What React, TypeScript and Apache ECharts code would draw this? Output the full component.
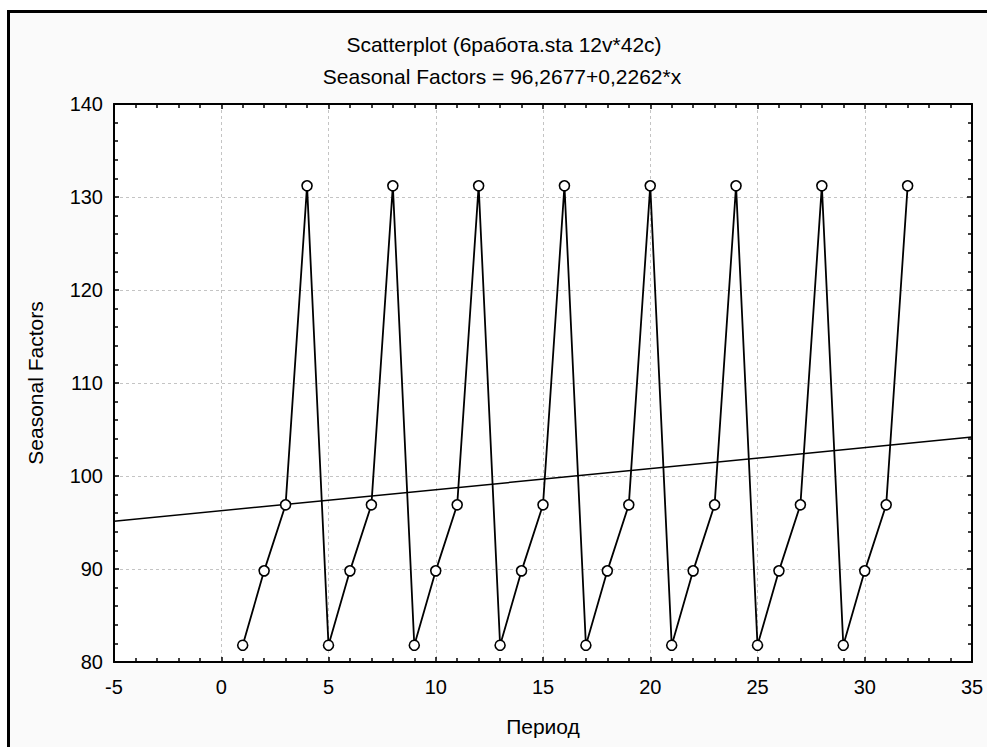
import React, { useEffect, useRef } from "react";
import * as echarts from "echarts";

const periods: number[] = Array.from({ length: 32 }, (_, i) => i + 1);
const seasonalFactors: number[] = [
  81.8, 89.8, 96.9, 131.2,
  81.8, 89.8, 96.9, 131.2,
  81.8, 89.8, 96.9, 131.2,
  81.8, 89.8, 96.9, 131.2,
  81.8, 89.8, 96.9, 131.2,
  81.8, 89.8, 96.9, 131.2,
  81.8, 89.8, 96.9, 131.2,
  81.8, 89.8, 96.9, 131.2,
];
const intercept = 96.2677;
const slope = 0.2262;
const xRange: number[] = [-5, 35];
const yRange: number[] = [80, 140];
const titleLine1 = "Scatterplot (6работа.sta 12v*42c)";
const titleLine2 = "Seasonal Factors = 96,2677+0,2262*x";
const xName = "Период";
const yName = "Seasonal Factors";

export default function App() {
  const ref = useRef<HTMLDivElement>(null);
  useEffect(() => {
    if (!ref.current) return;
    const chart = echarts.init(ref.current, null, { renderer: "svg" });
    const font = "Liberation Sans, Arial, sans-serif";
    const points = periods.map((p, i) => [p, seasonalFactors[i]]);
    const fit = xRange.map((x) => [x, intercept + slope * x]);
    const hiddenAxisCommon = {
      axisLine: { show: true, lineStyle: { color: "#000", width: 2 } },
      axisTick: { show: true, inside: true, length: 5, lineStyle: { color: "#000", width: 1.5 } },
      minorTick: { show: true, length: 4, lineStyle: { color: "#000", width: 1.5 } },
      axisLabel: { show: false },
      splitLine: { show: false },
    };
    chart.setOption({
      animation: false,
      backgroundColor: "#ffffff",
      graphic: [
        {
          type: "rect",
          z: -10,
          silent: true,
          shape: { x: 8.5, y: 11.5, width: 990, height: 760 },
          style: { fill: "#fafafa", stroke: "#000", lineWidth: 3 },
        },
      ],
      title: [
        {
          text: titleLine1,
          left: 499,
          textAlign: "center",
          top: 29,
          textStyle: { fontFamily: font, fontSize: 21, fontWeight: "normal", color: "#000" },
        },
        {
          text: titleLine2,
          left: 497,
          textAlign: "center",
          top: 61,
          textStyle: { fontFamily: font, fontSize: 21, fontWeight: "normal", color: "#000" },
        },
      ],
      grid: {
        left: 114,
        right: 15,
        top: 104,
        bottom: 85,
        show: true,
        backgroundColor: "#ffffff",
        borderWidth: 0,
      },
      xAxis: [
        {
          type: "value",
          min: xRange[0],
          max: xRange[1],
          interval: 5,
          position: "bottom",
          name: xName,
          nameLocation: "middle",
          nameGap: 54,
          nameTextStyle: { fontFamily: font, fontSize: 21, color: "#000" },
          axisLine: { show: true, onZero: false, lineStyle: { color: "#000", width: 2 } },
          axisTick: { show: true, inside: true, length: 5, lineStyle: { color: "#000", width: 1.5 } },
          minorTick: { show: true, splitNumber: 5, length: 4, lineStyle: { color: "#000", width: 1.5 } },
          axisLabel: { fontFamily: font, fontSize: 20, color: "#000", margin: 15 },
          splitLine: { show: true, lineStyle: { color: "#c4c4c4", type: [3, 3], width: 1 } },
        },
        {
          type: "value",
          min: xRange[0],
          max: xRange[1],
          interval: 5,
          position: "top",
          ...hiddenAxisCommon,
          axisLine: { show: true, onZero: false, lineStyle: { color: "#000", width: 2 } },
          minorTick: { show: true, splitNumber: 5, length: 4, lineStyle: { color: "#000", width: 1.5 } },
        },
      ],
      yAxis: [
        {
          type: "value",
          min: yRange[0],
          max: yRange[1],
          interval: 10,
          position: "left",
          name: yName,
          nameLocation: "middle",
          nameGap: 68,
          nameTextStyle: { fontFamily: font, fontSize: 21, color: "#000" },
          axisLine: { show: true, onZero: false, lineStyle: { color: "#000", width: 2 } },
          axisTick: { show: true, inside: true, length: 5, lineStyle: { color: "#000", width: 1.5 } },
          minorTick: { show: true, splitNumber: 5, length: 4, lineStyle: { color: "#000", width: 1.5 } },
          axisLabel: { fontFamily: font, fontSize: 20, color: "#000", margin: 11 },
          splitLine: { show: true, lineStyle: { color: "#c4c4c4", type: [3, 3], width: 1 } },
        },
        {
          type: "value",
          min: yRange[0],
          max: yRange[1],
          interval: 10,
          position: "right",
          ...hiddenAxisCommon,
          axisLine: { show: true, onZero: false, lineStyle: { color: "#000", width: 2 } },
          minorTick: { show: true, splitNumber: 5, length: 4, lineStyle: { color: "#000", width: 1.5 } },
        },
      ],
      series: [
        {
          type: "line",
          name: "fit",
          data: fit,
          showSymbol: false,
          symbol: "none",
          lineStyle: { color: "#000", width: 1.5 },
          z: 2,
        },
        {
          type: "line",
          name: yName,
          data: points,
          symbol: "circle",
          symbolSize: 10,
          showSymbol: true,
          lineStyle: { color: "#000", width: 1.8 },
          itemStyle: { color: "#ffffff", borderColor: "#000", borderWidth: 1.6 },
          z: 3,
        },
      ],
    });
    return () => chart.dispose();
  }, []);
  return (
    <div
      ref={ref}
      style={{ position: "fixed", left: 0, top: 0, width: 987, height: 747 }}
    />
  );
}
